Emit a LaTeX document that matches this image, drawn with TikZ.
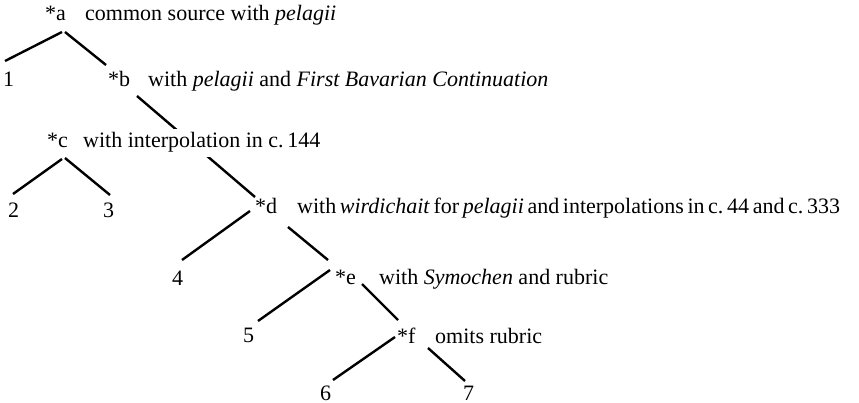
\documentclass[tikz,border=0pt]{standalone}
\usepackage{fontspec}
\setmainfont{Liberation Serif}
\usetikzlibrary{calc,backgrounds}

\tikzset{
  txt/.style={anchor=base west, inner sep=0pt, font=\fontsize{22}{26}\selectfont},
  masked/.style={txt, fill=white, inner ysep=4pt},
  branch/.style={line width=2.4pt, line cap=butt}
}

\begin{document}
\begin{tikzpicture}[x=1pt,y=-1pt]
\useasboundingbox (0,0) rectangle (859,403);

% sigla of the lost exemplars and their notes
\node[txt] (a) at (45,21) {*a};
\node[txt] (adesc) at (85,21) {common source with \textit{pelagii}};
\node[txt] (b) at (108,87) {*b};
\node[txt] (bdesc) at (148,87) {with \textit{pelagii} and \textit{First Bavarian Continuation}};
\node[txt] (c) at (47,148) {*c};
\node[masked] (cdesc) at (83,148) {with interpolation in c.\,144};
\node[txt] (d) at (255,214) {*d};
\node[txt] (ddesc) at (297,214) {\spaceskip=3.6pt plus 1pt with \textit{wirdichait} for \textit{pelagii} and interpolations in c.\,44 and c.\,333};
\node[txt] (e) at (335,284) {*e};
\node[txt] (edesc) at (379,284) {with \textit{Symochen} and rubric};
\node[txt] (f) at (397,343) {*f};
\node[txt] (fdesc) at (435,343) {omits rubric};

% surviving witnesses
\node[txt] (n1) at (3,87) {1};
\node[txt] (n2) at (8,218) {2};
\node[txt] (n3) at (103,218) {3};
\node[txt] (n4) at (172,285) {4};
\node[txt] (n5) at (243,342) {5};
\node[txt] (n6) at (320,400) {6};
\node[txt] (n7) at (463,400) {7};

% branches, kept behind the text so that the note of *c masks the *b--*d line
\begin{pgfonlayer}{background}
\draw[branch] ($(a.base west)+(17,11)$) -- ($(n1.base west)+(2,-26)$);
\draw[branch] ($(a.base west)+(20,11)$) -- ($(b.base west)+(-2,-22)$);
\draw[branch] ($(b.base west)+(29,9)$) -- ($(d.base west)+(0,-17)$);
\draw[branch] ($(c.base west)+(15,11)$) -- ($(n2.base west)+(5,-24)$);
\draw[branch] ($(c.base west)+(18,10)$) -- ($(n3.base west)+(7,-23)$);
\draw[branch] ($(d.base west)+(-5,-3)$) -- ($(n4.base west)+(10,-25)$);
\draw[branch] ($(d.base west)+(33,13)$) -- ($(e.base west)+(-7,-24)$);
\draw[branch] ($(e.base west)+(-5,-14)$) -- ($(n5.base west)+(15,-21)$);
\draw[branch] ($(e.base west)+(27,0)$) -- ($(f.base west)+(1,-23)$);
\draw[branch] ($(f.base west)+(-2,-6)$) -- ($(n6.base west)+(13,-20)$);
\draw[branch] ($(f.base west)+(31,5)$) -- ($(n7.base west)+(2,-19)$);
\end{pgfonlayer}
\end{tikzpicture}
\end{document}
